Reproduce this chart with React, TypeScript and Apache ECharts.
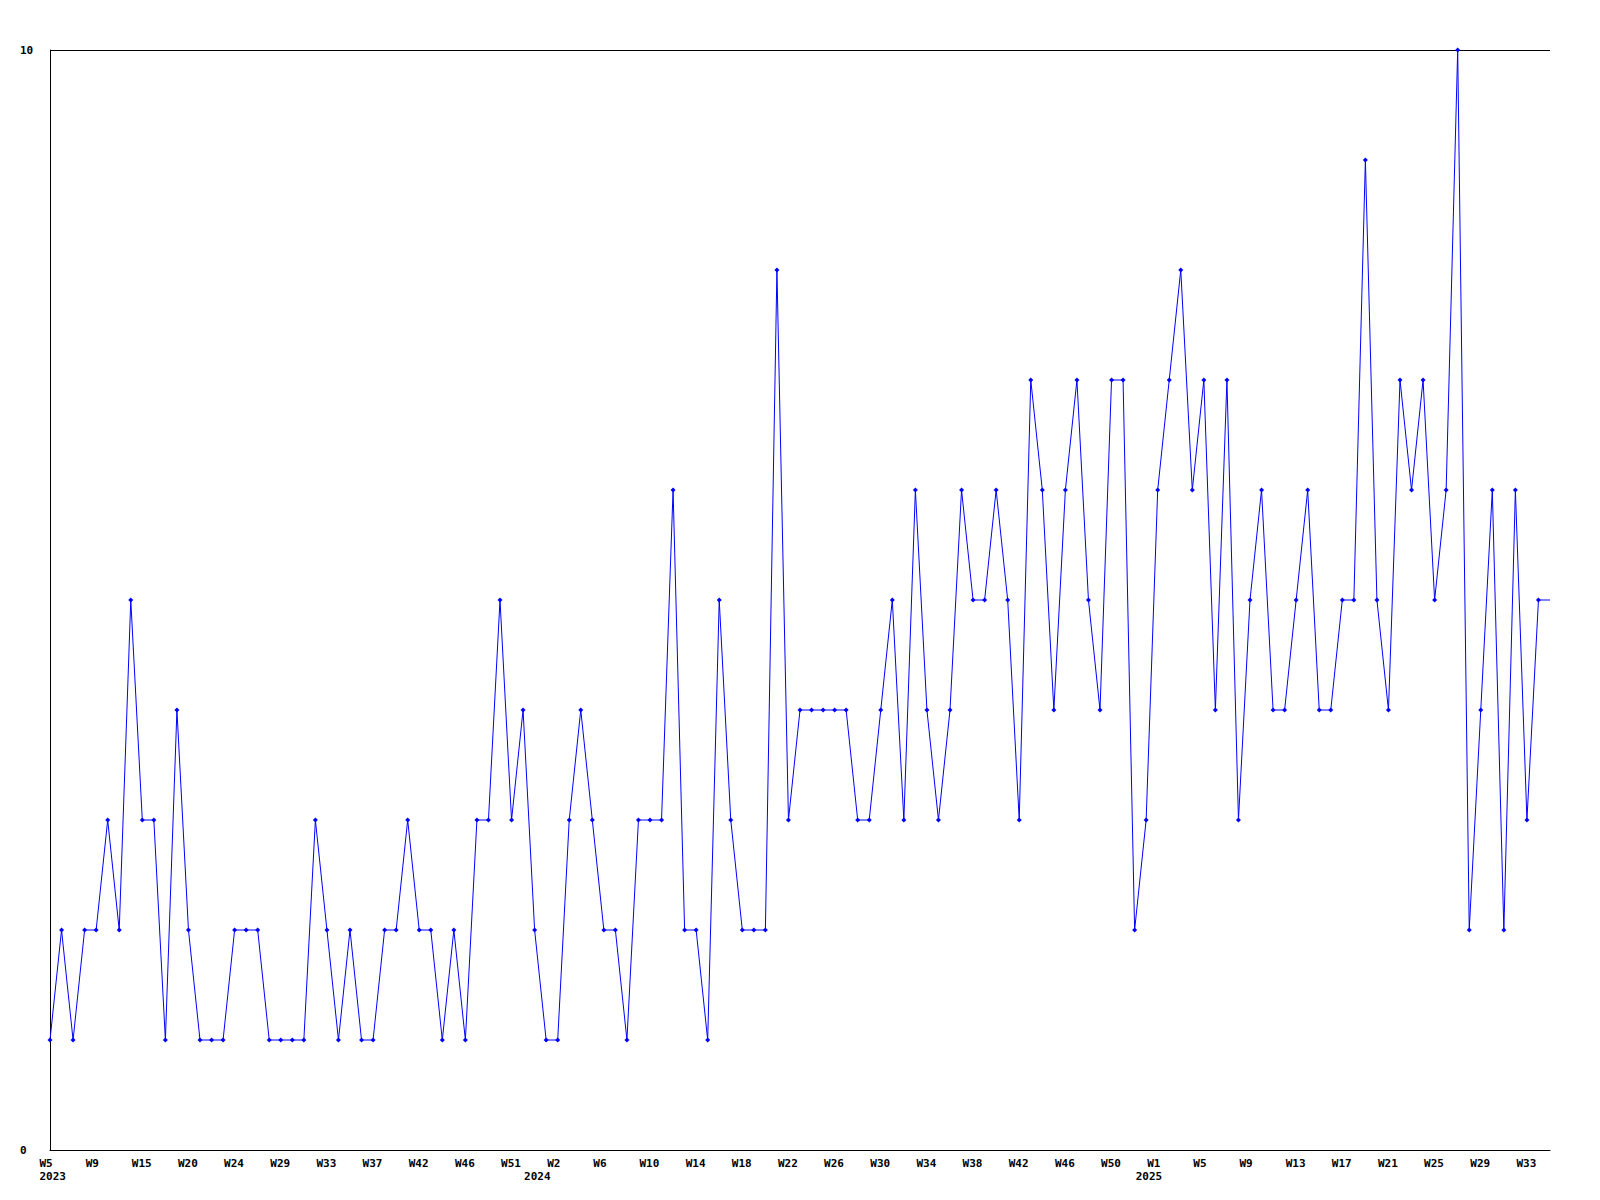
import React, { useEffect, useRef } from "react";
import * as echarts from "echarts";

// Week keys (year-week) for each data point
const weeks2023 = [5, 6, 7, 8, 9, 10, 12, 13, 15, 16, 17, 19, 20, 21, 22, 23, 24, 25, 26, 28, 29, 30, 31, 32, 33, 34, 35, 36, 37, 38, 40, 41, 42, 43, 44, 45, 46, 47, 49, 50, 51, 52];
const weeks2024 = [0, 1, 2, 3, 4, 5, 6, 7, 8, 9, 10, 11, 12, 13, 14, 15, 16, 17, 18, 19, 20, 21, 22, 23, 24, 25, 26, 27, 28, 29, 30, 31, 32, 33, 34, 35, 36, 37, 38, 39, 40, 41, 42, 43, 44, 45, 46, 47, 48, 49, 50, 51, 52];
const weeks2025 = [0, 1, 2, 3, 4, 5, 6, 7, 8, 9, 10, 11, 12, 13, 14, 15, 16, 17, 18, 19, 20, 21, 22, 23, 24, 25, 26, 27, 28, 29, 30, 31, 32, 33, 34];

const values = [
  1, 2, 1, 2, 2, 3, 2, 5, 3, 3,
  1, 4, 2, 1, 1, 1, 2, 2, 2, 1,
  1, 1, 1, 3, 2, 1, 2, 1, 1, 2,
  2, 3, 2, 2, 1, 2, 1, 3, 3, 5,
  3, 4, 2, 1, 1, 3, 4, 3, 2, 2,
  1, 3, 3, 3, 6, 2, 2, 1, 5, 3,
  2, 2, 2, 8, 3, 4, 4, 4, 4, 4,
  3, 3, 4, 5, 3, 6, 4, 3, 4, 6,
  5, 5, 6, 5, 3, 7, 6, 4, 6, 7,
  5, 4, 7, 7, 2, 3, 6, 7, 8, 6,
  7, 4, 7, 3, 5, 6, 4, 4, 5, 6,
  4, 4, 5, 5, 9, 5, 4, 7, 6, 7,
  5, 6, 10, 2, 4, 6, 2, 6, 3, 5,
];

const yTicks = [0, 10];
const labelEvery = 4;

export default function App() {
  const ref = useRef<HTMLDivElement>(null);

  useEffect(() => {
    if (!ref.current) return;
    const chart = echarts.init(ref.current, undefined, { renderer: "svg" });

    const categories: string[] = [];
    weeks2023.forEach((w) => categories.push(`2023-W${w}`));
    weeks2024.forEach((w) => categories.push(`2024-W${w}`));
    weeks2025.forEach((w) => categories.push(`2025-W${w}`));
    // axis end slot (one step past the last point)
    categories.push("end");

    const n = values.length;
    const seriesData: any[] = values.map((v) => v);
    seriesData.push({ value: values[n - 1], symbol: "none" });

    const yearStart = new Set<number>();
    let prevYear = "";
    categories.forEach((c, i) => {
      const y = c.split("-")[0];
      if (i < n && y !== prevYear) yearStart.add(i);
      prevYear = y;
    });

    const font = "DejaVu Sans Mono";
    const baseLabel = {
      fontFamily: font,
      fontWeight: "bold" as const,
      fontSize: 11,
      color: "#000",
    };

    chart.setOption({
      animation: false,
      backgroundColor: "#fff",
      grid: { left: 50, right: 50, top: 50, bottom: 50, containLabel: false },
      xAxis: [
        {
          type: "category",
          data: categories,
          boundaryGap: false,
          position: "bottom",
          axisLine: { show: true, lineStyle: { color: "#000", width: 1 } },
          axisTick: { show: false },
          splitLine: { show: false },
          axisLabel: {
            ...baseLabel,
            margin: 8,
            align: "center",
            verticalAlign: "top",
            interval: (i: number) => i % labelEvery === 0 && i < n,
            formatter: (v: string) => `{w|${v.split("-")[1]}}`,
            rich: { w: { ...baseLabel, width: 21, align: "left" } },
          },
        },
        {
          type: "category",
          data: categories,
          boundaryGap: false,
          position: "bottom",
          axisLine: { show: false },
          axisTick: { show: false },
          splitLine: { show: false },
          axisLabel: {
            ...baseLabel,
            margin: 21,
            align: "center",
            verticalAlign: "top",
            interval: (i: number) => yearStart.has(i),
            formatter: (v: string) => `{w|${v.split("-")[0]}}`,
            rich: { w: { ...baseLabel, width: 21, align: "left" } },
          },
        },
      ],
      yAxis: {
        type: "value",
        min: yTicks[0],
        max: yTicks[yTicks.length - 1],
        interval: yTicks[1] - yTicks[0],
        axisLine: { show: true, lineStyle: { color: "#000", width: 1 } },
        axisTick: { show: false },
        splitLine: { show: true, lineStyle: { color: "#000", width: 1 } },
        axisLabel: {
          ...baseLabel,
          align: "left",
          margin: 30,
        },
      },
      series: [
        {
          type: "line",
          xAxisIndex: 0,
          data: seriesData,
          symbol: "diamond",
          symbolSize: 5,
          showSymbol: true,
          lineStyle: { color: "#0000ff", width: 1 },
          itemStyle: { color: "#0000ff" },
          emphasis: { disabled: true },
        },
      ],
    });

    return () => chart.dispose();
  }, []);

  return (
    <div
      ref={ref}
      style={{ position: "absolute", left: 0, top: 0, width: 1600, height: 1200 }}
    />
  );
}
